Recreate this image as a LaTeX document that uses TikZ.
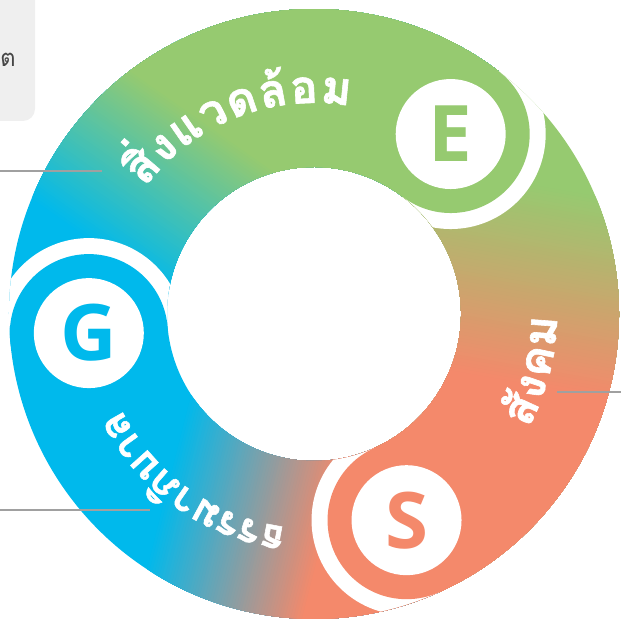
\documentclass[tikz,border=0pt]{standalone}
\usepackage{fontspec}
\newfontfamily\thaifont[Script=Thai]{Loma}
\newfontfamily\thaiheavy[Script=Thai, BoldFeatures={FakeBold=1.3}]{Loma}
\newfontfamily\latinfont{Open Sans}
\usetikzlibrary{calc}
\definecolor{greenC}{RGB}{150,202,112}
\definecolor{orangeC}{RGB}{244,137,107}
\definecolor{blueC}{RGB}{0,185,236}
\definecolor{lineC}{RGB}{160,160,160}
\definecolor{boxC}{RGB}{239,239,239}
\definecolor{boxtextC}{RGB}{70,70,70}
\newlength\ArcW
% measure clusters outside the picture: #1 name, #2 font size, #3 tracking, #4 clusters
\newcommand\MeasureArc[4]{%
  \expandafter\gdef\csname ArcF@#1\endcsname{\thaiheavy\bfseries\fontsize{#2}{#2}\selectfont}%
  \expandafter\gdef\csname ArcTr@#1\endcsname{#3}%
  \xdef\ArcTot{0}%
  \foreach \ArcCh [count=\ArcI] in {#4}{%
    \settowidth\ArcW{\csname ArcF@#1\endcsname\ArcCh}%
    \expandafter\xdef\csname ArcW@#1@\ArcI\endcsname{\the\ArcW}%
    \pgfmathsetmacro\ArcTmp{\ArcTot+\the\ArcW+#3}%
    \xdef\ArcTot{\ArcTmp}%
  }%
  \expandafter\xdef\csname ArcTot@#1\endcsname{\ArcTot}%
}
% #1 cx, #2 cy, #3 baseline radius, #4 middle angle, #5 direction (1 ccw, -1 cw), #6 name, #7 clusters
\newcommand\ArcText[7]{%
  \pgfmathsetmacro\ArcTmp{#4-(#5)*\csname ArcTot@#6\endcsname/(#3)*90/pi}%
  \xdef\ArcCur{\ArcTmp}%
  \foreach \ArcCh [count=\ArcI] in {#7}{%
    \pgfmathsetmacro\ArcHalf{(\csname ArcW@#6@\ArcI\endcsname+\csname ArcTr@#6\endcsname)/(#3)*90/pi}%
    \pgfmathsetmacro\ArcMid{\ArcCur+(#5)*\ArcHalf}%
    \pgfmathsetmacro\ArcRot{\ArcMid+(#5)*90}%
    \node[thaitxt, font=\csname ArcF@#6\endcsname, anchor=base, rotate=\ArcRot] (#6-\ArcI) at ({#1+#3*cos(\ArcMid)},{#2+#3*sin(\ArcMid)}) {\ArcCh};%
    \pgfmathsetmacro\ArcTmp{\ArcMid+(#5)*\ArcHalf}%
    \xdef\ArcCur{\ArcTmp}%
  }%
}
% linear gradient by strips: #1 x, #2 y, #3 angle, #4 length, #5 start colour, #6 end colour
\newcommand\GradFill[6]{%
  \begin{scope}[shift={(#1,#2)}, rotate=#3]
    \fill[#5] (-1500,-1500) rectangle (1500,1500);
    \foreach \Gi in {1,...,60}{%
      \pgfmathsetmacro\GxS{(\Gi-1)/60*#4}%
      \pgfmathsetmacro\GpC{\Gi/60*100}%
      \fill[#6!\GpC!#5] (\GxS,-1500) rectangle (1500,1500);
    }
  \end{scope}%
}
\newcommand\SecE{($(C)+(184.85:305pt)$) arc (184.85:52.78:305pt) -- ($(C)+(52.78:147pt)$) arc (52.78:184.85:147pt) -- cycle}
\newcommand\SecS{($(C)+(52.78:305pt)$) arc (52.78:-65.83:305pt) -- ($(C)+(-65.83:147pt)$) arc (-65.83:52.78:147pt) -- cycle}
\newcommand\SecG{($(C)+(-65.83:305pt)$) arc (-65.83:-175.15:305pt) -- ($(C)+(-175.15:147pt)$) arc (-175.15:-65.83:147pt) -- cycle}
\begin{document}
\MeasureArc{env}{46}{1.5}{สิ่,ง,แ,ว,ด,ล้,อ,ม}%
\MeasureArc{soc}{46}{1.5}{สั,ง,ค,ม}%
\MeasureArc{gov}{41}{-1}{ธ,ร,ร,ม,า,ภิ,บ,า,ล}%
\begin{tikzpicture}[x=1pt, y=1pt,
  headL/.style={font=\latinfont\bfseries\fontsize{78}{80}\selectfont, inner sep=0pt},
  thaitxt/.style={text=white, inner sep=0pt},
  conn/.style={draw=lineC, line width=1.2pt}]
\useasboundingbox (0,0) rectangle (621,623);
\clip (0,0) rectangle (621,623);

% partial note box (top left)
\fill[boxC, rounded corners=12pt] (-30,502) rectangle (35,660);
\node[anchor=base east, text=boxtextC, font=\thaifont\fontsize{24}{28}\selectfont, inner sep=0pt] (boxtext) at (16,556) {ต};

\coordinate (C) at (314,309);
\coordinate (Ec) at ($(C)+(52.78:226pt)$);
\coordinate (Sc) at ($(C)+(-65.83:226pt)$);
\coordinate (Gc) at ($(C)+(184.85:226pt)$);

% Environment segment (tail at G, head at E)
\begin{scope}
  \clip \SecE;
  \GradFill{70}{398}{55}{163}{blueC}{greenC}
\end{scope}
% Social segment (tail at E, head at S)
\begin{scope}
  \clip \SecS;
  \GradFill{560}{433}{-100}{200}{greenC}{orangeC}
\end{scope}
% Governance segment (tail at S, head at G)
\begin{scope}
  \clip \SecG;
  \GradFill{190}{223}{-14.2}{165}{blueC}{orangeC}
\end{scope}
% white gaps cut from each tail
\begin{scope}
  \clip \SecS;
  \fill[white] (Ec) circle (95pt);
\end{scope}
\begin{scope}
  \clip \SecG;
  \fill[white] (Sc) circle (95pt);
\end{scope}
\begin{scope}
  \clip \SecE;
  \fill[white] (Gc) circle (95pt);
\end{scope}

% heads
\fill[greenC] (Ec) circle (79pt);
\fill[orangeC] (Sc) circle (79pt);
\fill[blueC] (Gc) circle (79pt);
\fill[white] (Ec) circle (55pt);
\fill[white] (Sc) circle (55pt);
\fill[white] (Gc) circle (55pt);
\node[headL, text=greenC] (Eletter) at (Ec) {E};
\node[headL, text=orangeC] (Sletter) at (Sc) {S};
\node[headL, text=blueC] (Gletter) at (Gc) {G};

% curved Thai labels
\ArcText{314}{309}{211}{111.7}{-1}{env}{สิ่,ง,แ,ว,ด,ล้,อ,ม}
\ArcText{314}{309}{243}{-14.4}{1}{soc}{สั,ง,ค,ม}
\ArcText{314}{309}{215}{-125.5}{-1}{gov}{ธ,ร,ร,ม,า,ภิ,บ,า,ล}

% leader lines
\coordinate (l1s) at (0,452);
\coordinate (l1e) at (102,452);
\coordinate (l2s) at (0,113);
\coordinate (l2e) at (150,113);
\coordinate (l3s) at (557,231);
\coordinate (l3e) at (621,231);
\draw[conn] (l1s) -- (l1e);
\draw[conn] (l2s) -- (l2e);
\draw[conn] (l3s) -- (l3e);
\end{tikzpicture}
\end{document}
